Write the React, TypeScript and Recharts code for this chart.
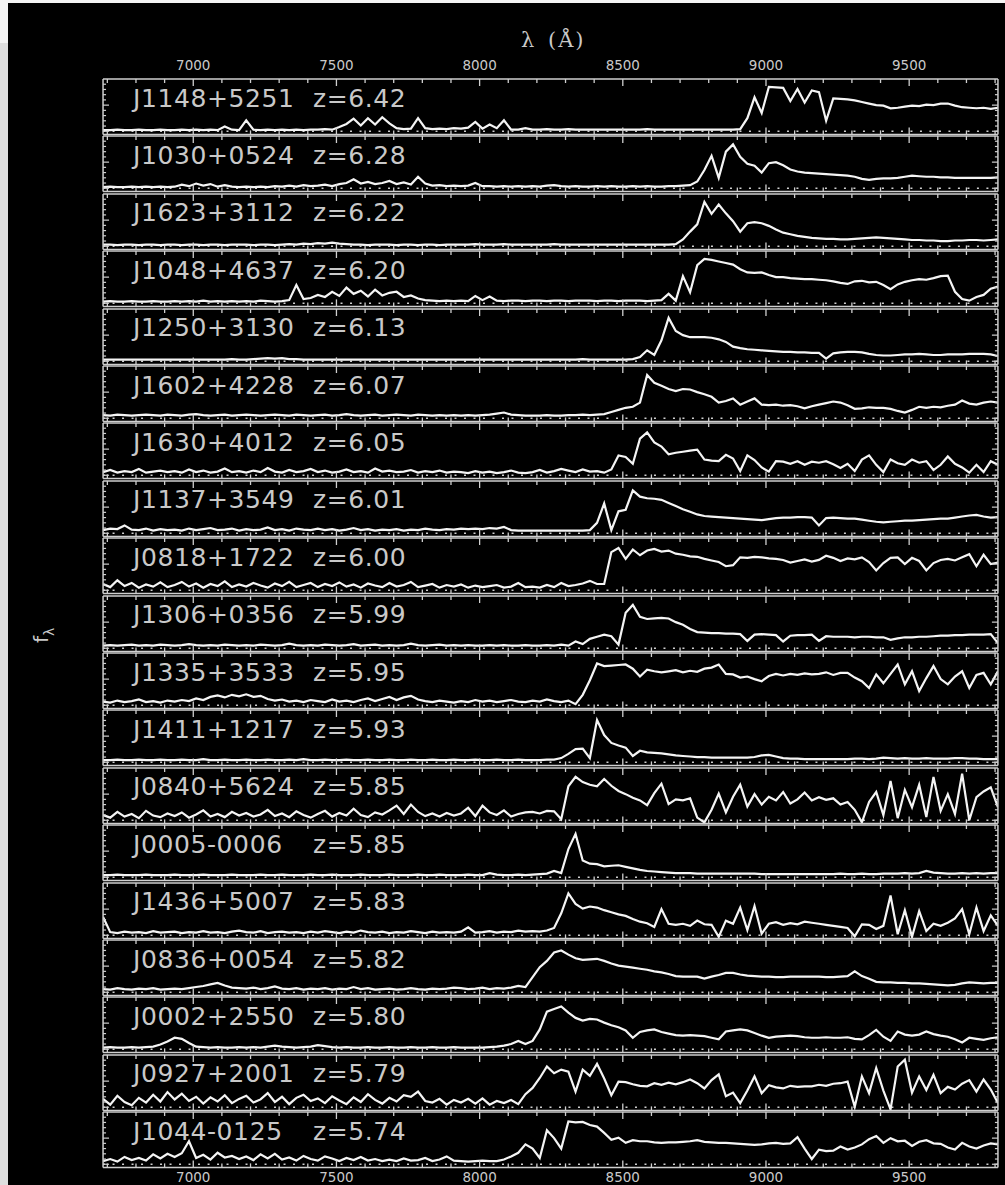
import React from 'react';
import { Line, LineChart, ReferenceLine, XAxis, YAxis } from 'recharts';

// Observed-frame wavelength grid, 25 Å bins (Å)
const WAVE = [
  6685, 6710, 6735, 6760, 6785, 6810, 6835, 6860, 6885, 6910,
  6935, 6960, 6985, 7010, 7035, 7060, 7085, 7110, 7135, 7160,
  7185, 7210, 7235, 7260, 7285, 7310, 7335, 7360, 7385, 7410,
  7435, 7460, 7485, 7510, 7535, 7560, 7585, 7610, 7635, 7660,
  7685, 7710, 7735, 7760, 7785, 7810, 7835, 7860, 7885, 7910,
  7935, 7960, 7985, 8010, 8035, 8060, 8085, 8110, 8135, 8160,
  8185, 8210, 8235, 8260, 8285, 8310, 8335, 8360, 8385, 8410,
  8435, 8460, 8485, 8510, 8535, 8560, 8585, 8610, 8635, 8660,
  8685, 8710, 8735, 8760, 8785, 8810, 8835, 8860, 8885, 8910,
  8935, 8960, 8985, 9010, 9035, 9060, 9085, 9110, 9135, 9160,
  9185, 9210, 9235, 9260, 9285, 9310, 9335, 9360, 9385, 9410,
  9435, 9460, 9485, 9510, 9535, 9560, 9585, 9610, 9635, 9660,
  9685, 9710, 9735, 9760, 9785, 9810,
];

const X_TICKS = [
  6700, 6800, 6900, 7000, 7100, 7200, 7300, 7400, 7500, 7600, 7700,
  7800, 7900, 8000, 8100, 8200, 8300, 8400, 8500, 8600, 8700, 8800,
  8900, 9000, 9100, 9200, 9300, 9400, 9500, 9600, 9700, 9800,
];
const Y_TICKS = [0, 1, 2, 3, 4, 5, 6, 7, 8, 9];

const QSO_NAMES = [
  'J1148+5251', 'J1030+0524', 'J1623+3112', 'J1048+4637', 'J1250+3130',
  'J1602+4228', 'J1630+4012', 'J1137+3549', 'J0818+1722', 'J1306+0356',
  'J1335+3533', 'J1411+1217', 'J0840+5624', 'J0005-0006', 'J1436+5007',
  'J0836+0054', 'J0002+2550', 'J0927+2001', 'J1044-0125',
];
const QSO_Z = [
  '6.42', '6.28', '6.22', '6.20', '6.13', '6.07', '6.05', '6.01', '6.00', '5.99',
  '5.95', '5.93', '5.85', '5.85', '5.83', '5.82', '5.80', '5.79', '5.74',
];

// f_lambda, arbitrary units per panel, one row = 250 Å
const fluxJ1148 = [
  0.2, 0.2, 0.3, 0.2, 0.2, 0.3, 0.2, 0.2, 0.3, 0.2,
  0.2, 0.3, 0.2, 0.3, 0.2, 0.3, 0.2, 0.9, 0.3, 0.2,
  2.1, 0.3, 0.2, 0.3, 0.2, 0.3, 0.2, 0.3, 0.2, 0.3,
  0.3, 0.4, 0.3, 0.8, 1.4, 2.4, 1.1, 2.5, 1.3, 2.7,
  1.5, 0.6, 0.4, 0.5, 2.5, 0.6, 0.4, 0.5, 0.4, 0.6,
  0.5, 0.7, 1.8, 0.5, 1.3, 0.6, 2.1, 0.3, 0.3, 0.6,
  0.3, 0.3, 0.4, 0.3, 0.3, 0.4, 0.3, 0.3, 0.3, 0.3,
  0.3, 0.3, 0.3, 0.3, 0.3, 0.3, 0.4, 0.3, 0.3, 0.3,
  0.3, 0.3, 0.3, 0.3, 0.3, 0.3, 0.3, 0.3, 0.3, 0.4,
  2.5, 6.5, 3.5, 8.5, 8.4, 8.3, 5.8, 8.1, 5.5, 7.8,
  7.5, 2.0, 6.3, 6.2, 6.1, 5.9, 5.6, 5.3, 5.0, 4.9,
  4.4, 4.5, 4.7, 4.9, 4.8, 5.1, 5.0, 5.3, 5.3, 4.9,
  4.6, 4.5, 4.4, 4.5, 4.3, 4.5,
];
const fluxJ1030 = [
  0.2, 0.3, 0.2, 0.2, 0.3, 0.2, 0.3, 0.2, 0.3, 0.2,
  0.3, 0.7, 0.4, 0.9, 0.5, 0.8, 0.3, 0.6, 0.3, 0.2,
  0.3, 0.2, 0.3, 0.2, 0.4, 0.3, 0.5, 0.3, 0.6, 0.4,
  0.5, 0.7, 0.4, 0.8, 1.0, 1.7, 0.9, 1.2, 0.8, 1.0,
  1.4, 0.8, 1.1, 0.7, 2.2, 0.9, 0.5, 0.6, 0.4, 0.5,
  0.4, 0.5, 1.0, 0.4, 0.4, 0.3, 0.4, 0.3, 0.4, 0.3,
  0.4, 0.3, 0.5, 0.6, 0.4, 0.3, 0.4, 0.3, 0.3, 0.4,
  0.3, 0.4, 0.3, 0.3, 0.4, 0.3, 0.4, 0.3, 0.3, 0.4,
  0.4, 0.5, 0.6, 1.3, 3.5, 6.2, 2.0, 7.0, 8.4, 6.0,
  4.7, 4.3, 3.0, 4.8, 5.0, 4.4, 3.6, 3.2, 3.0, 2.9,
  2.8, 2.7, 2.6, 2.5, 2.4, 2.2, 1.8, 1.6, 1.8, 1.9,
  1.9, 2.0, 2.2, 2.4, 2.3, 2.2, 2.2, 2.1, 2.1, 2.0,
  2.0, 2.0, 2.0, 2.0, 2.0, 2.1,
];
const fluxJ1623 = [
  0.3, 0.3, 0.2, 0.3, 0.3, 0.2, 0.3, 0.3, 0.2, 0.3,
  0.3, 0.2, 0.3, 0.3, 0.2, 0.3, 0.3, 0.2, 0.3, 0.3,
  0.3, 0.2, 0.3, 0.3, 0.2, 0.3, 0.4, 0.3, 0.5, 0.4,
  0.6, 0.5, 0.7, 0.5, 0.4, 0.3, 0.3, 0.2, 0.3, 0.3,
  0.3, 0.2, 0.3, 0.3, 0.2, 0.3, 0.3, 0.2, 0.3, 0.3,
  0.3, 0.3, 0.4, 0.3, 0.3, 0.3, 0.4, 0.3, 0.3, 0.3,
  0.3, 0.3, 0.3, 0.4, 0.3, 0.3, 0.3, 0.3, 0.3, 0.3,
  0.3, 0.3, 0.3, 0.3, 0.3, 0.3, 0.3, 0.3, 0.3, 0.3,
  0.4, 1.3, 2.8, 4.2, 8.5, 6.2, 8.0, 6.3, 4.8, 2.8,
  4.4, 4.6, 4.4, 3.9, 3.2, 2.6, 2.3, 2.0, 1.8, 1.6,
  1.5, 1.4, 1.4, 1.3, 1.3, 1.4, 1.5, 1.6, 1.7, 1.6,
  1.5, 1.4, 1.3, 1.2, 1.2, 1.1, 1.1, 1.0, 1.0, 1.1,
  1.1, 1.2, 1.2, 1.1, 1.2, 1.3,
];
const fluxJ1048 = [
  0.3, 0.4, 0.3, 0.3, 0.4, 0.3, 0.3, 0.4, 0.3, 0.3,
  0.4, 0.3, 0.4, 0.3, 0.5, 0.3, 0.4, 0.3, 0.4, 0.3,
  0.4, 0.3, 0.5, 0.4, 0.3, 0.4, 0.6, 3.5, 0.8, 1.0,
  1.6, 1.2, 2.2, 1.4, 3.0, 1.8, 2.4, 1.3, 2.6, 1.5,
  2.0, 2.2, 1.2, 1.5, 0.9, 0.6, 0.5, 0.4, 0.5, 0.4,
  0.5, 0.4, 1.4, 0.6, 1.3, 0.5, 0.4, 0.5, 0.5, 0.4,
  0.5, 0.5, 0.4, 0.5, 0.5, 0.4, 0.5, 0.5, 0.5, 0.4,
  0.5, 0.5, 0.4, 0.5, 0.5, 0.5, 0.4, 0.5, 0.6, 1.8,
  0.5, 5.2, 2.1, 7.3, 8.5, 8.3, 8.0, 7.7, 7.4, 6.5,
  5.9, 5.8, 5.9, 5.4, 5.0, 5.0, 4.8, 4.7, 4.6, 4.6,
  4.5, 4.4, 4.2, 3.9, 3.7, 4.2, 4.3, 4.0, 4.1, 3.5,
  2.7, 3.6, 4.1, 4.4, 4.6, 4.5, 4.8, 5.2, 5.3, 2.2,
  0.8, 0.5, 1.2, 1.6, 2.8, 3.2,
];
const fluxJ1250 = [
  0.3, 0.3, 0.3, 0.3, 0.3, 0.3, 0.3, 0.3, 0.3, 0.3,
  0.3, 0.3, 0.3, 0.3, 0.3, 0.3, 0.3, 0.3, 0.4, 0.3,
  0.3, 0.4, 0.5, 0.6, 0.5, 0.6, 0.4, 0.4, 0.3, 0.3,
  0.3, 0.3, 0.3, 0.3, 0.3, 0.3, 0.3, 0.3, 0.3, 0.3,
  0.3, 0.3, 0.3, 0.3, 0.3, 0.3, 0.3, 0.3, 0.3, 0.3,
  0.3, 0.3, 0.3, 0.3, 0.3, 0.3, 0.3, 0.3, 0.3, 0.3,
  0.3, 0.3, 0.3, 0.3, 0.3, 0.3, 0.3, 0.4, 0.3, 0.3,
  0.3, 0.3, 0.3, 0.3, 0.4, 0.8, 2.1, 1.2, 4.0, 8.3,
  5.8, 5.0, 4.6, 4.6, 4.6, 4.5, 4.2, 3.7, 2.8, 2.5,
  2.3, 2.2, 2.1, 2.0, 1.9, 1.8, 1.8, 1.7, 1.7, 1.6,
  1.6, 0.5, 1.5, 1.7, 1.8, 1.8, 1.7, 1.4, 1.2, 1.1,
  1.1, 1.2, 1.3, 1.3, 1.4, 1.3, 1.2, 1.2, 1.3, 1.3,
  1.3, 1.4, 1.4, 1.4, 1.3, 1.0,
];
const fluxJ1602 = [
  0.6, 0.5, 0.7, 0.6, 0.5, 0.6, 0.7, 0.6, 0.5, 0.7,
  0.6, 0.5, 0.7, 0.8, 0.6, 0.5, 0.6, 0.7, 0.5, 0.6,
  0.7, 0.6, 0.5, 0.6, 0.7, 0.6, 0.5, 0.7, 0.6, 0.5,
  0.6, 0.7, 0.5, 0.6, 0.8, 0.6, 0.5, 0.6, 0.7, 0.5,
  0.6, 0.7, 0.6, 0.5, 0.7, 0.6, 0.5, 0.6, 0.5, 0.6,
  0.5, 0.6, 0.5, 0.6, 0.7, 0.9, 1.1, 0.7, 0.6, 0.5,
  0.5, 0.5, 0.6, 0.5, 0.5, 0.6, 0.6, 0.7, 0.6, 0.7,
  0.8, 1.2, 1.6, 2.0, 2.2, 3.0, 8.3, 6.8, 6.2, 5.6,
  5.2, 5.6, 5.5, 5.0, 4.6, 4.1, 3.0, 3.3, 3.8, 2.6,
  3.2, 3.8, 2.6, 2.5, 2.6, 2.4, 2.5, 2.3, 1.9, 2.3,
  2.6, 2.9, 3.2, 3.0, 2.5, 1.8, 1.9, 2.1, 2.0, 2.0,
  1.8, 1.4, 1.1, 1.6, 2.2, 2.0, 2.2, 2.1, 2.4, 2.6,
  3.4, 2.8, 2.6, 3.0, 3.2, 3.0,
];
const fluxJ1630 = [
  0.6, 1.0, 0.5, 0.8, 0.6, 1.2, 0.5, 0.7, 0.9, 0.6,
  0.8, 0.5, 1.1, 0.6, 0.9, 0.5, 0.7, 1.3, 0.6, 0.8,
  0.5, 0.9, 0.6, 1.4, 0.7, 0.5, 1.0, 0.6, 0.8, 1.2,
  0.6, 0.9, 0.5, 0.7, 1.1, 0.6, 0.8, 0.5, 1.3, 0.7,
  0.9, 0.6, 0.7, 1.0, 0.5, 0.8, 0.6, 0.9, 0.5, 0.7,
  0.6, 0.4, 0.8, 0.5, 0.7, 0.4, 0.6, 0.9, 0.5, 0.4,
  0.6, 1.0, 0.5, 0.8, 1.2, 0.9, 0.6, 1.1, 0.7, 0.8,
  0.5, 1.1, 3.8, 3.5, 2.2, 7.0, 8.2, 6.3, 5.5, 4.0,
  4.3, 4.5, 4.7, 4.9, 3.0, 2.8, 2.7, 3.9, 3.2, 0.8,
  3.8, 2.9, 1.5, 0.7, 2.7, 2.6, 2.2, 2.7, 2.0, 2.6,
  2.4, 2.7, 2.1, 1.4, 2.2, 0.8, 3.0, 3.8, 2.0, 0.6,
  3.0, 2.3, 2.0, 3.0, 2.4, 2.7, 1.0, 2.0, 3.6, 2.2,
  1.5, 0.5, 2.0, 0.6, 2.7, 2.0,
];
const fluxJ1137 = [
  0.6, 0.9, 0.8, 1.5, 0.7, 0.6, 0.9, 0.5, 0.8, 0.6,
  0.7, 0.5, 0.9, 0.6, 0.8, 1.0, 0.6, 0.7, 0.9, 0.5,
  0.8, 0.6, 0.7, 1.1, 0.6, 0.8, 0.5, 0.9, 0.7, 0.6,
  0.9, 0.6, 0.8, 0.5, 0.7, 1.0, 0.6, 0.8, 0.5, 0.7,
  0.6, 0.8, 0.5, 0.7, 0.6, 0.9, 0.7, 0.6, 0.8, 0.7,
  0.9, 0.8, 0.9, 0.8, 1.0, 0.9, 1.2, 0.6, 0.5, 0.5,
  0.5, 0.5, 0.5, 0.5, 0.5, 0.5, 0.5, 0.5, 0.6, 2.0,
  5.7, 0.6, 4.2, 4.5, 8.2, 7.0, 6.7, 6.6, 6.4, 5.8,
  5.2, 4.6, 4.1, 3.6, 3.3, 3.2, 3.1, 3.0, 2.9, 2.8,
  2.7, 2.6, 2.5, 2.7, 2.9, 3.0, 3.0, 3.1, 3.1, 3.0,
  1.5, 2.9, 3.0, 2.9, 2.8, 2.8, 2.6, 2.4, 2.2, 2.1,
  2.2, 2.3, 2.4, 2.4, 2.5, 2.6, 2.7, 2.8, 2.8, 3.0,
  3.2, 3.4, 3.5, 3.2, 3.0, 3.1,
];
const fluxJ0818 = [
  1.2, 0.6, 1.9, 0.8, 1.4, 0.5, 1.1, 0.7, 1.5, 0.6,
  1.0, 1.6, 0.7, 1.3, 0.5, 1.2, 0.8, 1.7, 0.6, 1.1,
  0.7, 1.4, 0.9, 0.5, 1.3, 0.8, 1.6, 0.6, 1.0, 1.4,
  0.6, 1.2, 0.8, 1.5, 0.7, 1.1, 0.5, 1.3, 0.9, 0.6,
  1.4, 0.7, 1.0, 1.6, 0.6, 0.9, 1.2, 0.5, 1.0, 0.7,
  1.1, 0.5, 0.9, 0.6, 0.8, 1.0, 0.5, 0.7, 1.4, 0.6,
  0.7, 0.5, 1.0, 0.6, 1.4, 0.8, 1.0, 1.3, 1.8, 1.2,
  1.2, 7.3, 8.1, 6.0, 7.8, 6.7, 7.6, 7.9, 7.4, 7.6,
  7.0, 6.8, 6.5, 6.4, 6.0, 5.7, 5.4, 4.6, 4.8, 6.3,
  6.2, 6.4, 6.3, 6.1, 6.0, 5.8, 5.3, 5.6, 5.9, 5.5,
  5.8, 6.6, 6.2, 5.6, 6.1, 5.9, 6.3, 5.4, 3.8, 5.2,
  6.2, 6.3, 5.0, 6.2, 5.6, 3.8, 5.2, 5.8, 6.0, 5.7,
  6.3, 6.9, 4.6, 6.8, 5.0, 5.3,
];
const fluxJ1306 = [
  0.5, 0.6, 0.5, 0.6, 0.7, 0.5, 0.6, 0.5, 0.7, 0.6,
  0.5, 0.6, 0.8, 0.6, 0.5, 0.6, 0.5, 0.7, 0.6, 0.5,
  0.6, 0.5, 0.7, 0.6, 0.5, 0.6, 0.9, 0.6, 0.5, 0.6,
  0.5, 0.7, 0.6, 0.5, 0.6, 0.8, 0.5, 0.6, 0.7, 0.5,
  0.6, 0.5, 0.6, 0.9, 0.6, 0.5, 0.6, 0.7, 0.5, 0.6,
  0.5, 0.6, 0.5, 0.5, 0.6, 0.5, 0.6, 0.5, 0.5, 0.6,
  0.5, 0.5, 0.6, 0.5, 0.7, 0.5, 1.3, 0.8, 1.8, 2.2,
  2.6, 2.3, 0.7, 6.8, 8.3, 6.0, 5.6, 5.7, 5.8, 5.7,
  5.0, 4.5, 3.7, 3.1, 3.0, 2.9, 2.9, 2.8, 2.8, 2.7,
  1.4, 2.6, 2.7, 2.6, 2.5, 1.3, 2.4, 2.5, 2.5, 2.6,
  1.4, 2.3, 2.2, 2.2, 2.2, 2.1, 2.2, 2.2, 2.1, 2.1,
  1.6, 1.9, 2.1, 2.1, 2.2, 2.2, 2.3, 2.4, 2.4, 2.5,
  2.5, 2.6, 2.6, 2.6, 2.7, 1.0,
];
const fluxJ1335 = [
  0.7, 0.5, 0.9, 0.6, 0.8, 1.1, 0.6, 0.8, 0.5, 0.9,
  0.7, 1.0, 0.8, 1.3, 1.0, 1.6, 1.9, 1.5, 2.0, 1.7,
  2.1, 1.6, 1.8, 1.2, 0.9, 1.1, 0.7, 0.9, 0.6, 1.0,
  0.8, 0.6, 1.1, 0.7, 0.9, 0.6, 1.0, 1.3, 0.8, 1.2,
  1.6, 1.0, 1.5, 1.8, 1.1, 0.8, 0.6, 0.9, 0.7, 0.5,
  0.8, 0.6, 1.0, 0.7, 0.9, 0.6, 0.8, 1.0, 0.7, 0.6,
  0.9, 0.7, 1.1, 0.8, 0.6, 0.9, 0.2, 2.0, 4.8, 8.0,
  7.5, 7.6, 7.7, 7.8, 7.0, 5.5, 6.8, 6.5, 6.3, 6.5,
  6.7, 6.3, 6.6, 6.4, 7.0, 7.2, 7.8, 6.0, 5.9, 5.3,
  5.5, 5.0, 4.6, 5.6, 6.0, 5.7, 6.0, 5.8, 6.1, 5.9,
  6.0, 6.3, 5.8, 6.2, 6.2, 5.3, 4.6, 3.3, 5.9, 4.2,
  6.0, 7.8, 4.0, 6.5, 2.7, 5.2, 7.5, 5.0, 4.0, 5.5,
  6.5, 3.3, 5.8, 6.2, 4.0, 6.5,
];
const fluxJ1411 = [
  0.4, 0.4, 0.5, 0.4, 0.4, 0.5, 0.4, 0.4, 0.5, 0.4,
  0.4, 0.5, 0.4, 0.4, 0.6, 0.4, 0.4, 0.5, 0.4, 0.4,
  0.5, 0.4, 0.4, 0.5, 0.4, 0.4, 0.5, 0.4, 0.6, 0.4,
  0.4, 0.5, 0.4, 0.4, 0.5, 0.4, 0.4, 0.5, 0.4, 0.4,
  0.5, 0.4, 0.4, 0.5, 0.4, 0.4, 0.5, 0.4, 0.4, 0.5,
  0.4, 0.4, 0.5, 0.4, 0.4, 0.5, 0.4, 0.4, 0.5, 0.4,
  0.4, 0.4, 0.5, 0.5, 0.8, 1.6, 2.5, 2.6, 0.8, 8.1,
  5.2, 3.7, 3.2, 2.8, 1.2, 2.2, 1.9, 1.8, 1.7, 1.5,
  1.3, 1.2, 1.1, 1.0, 1.0, 0.9, 0.9, 0.9, 0.9, 0.9,
  0.9, 1.0, 1.3, 1.4, 1.1, 0.8, 0.7, 0.7, 0.6, 0.6,
  0.6, 0.6, 0.6, 0.6, 0.6, 0.7, 0.7, 0.6, 0.7, 0.9,
  0.8, 0.7, 0.8, 0.7, 0.7, 0.8, 0.7, 0.7, 0.7, 0.8,
  0.8, 0.7, 0.7, 0.6, 0.6, 0.6,
];
const fluxJ0840 = [
  1.0, 0.5, 1.6, 0.7, 1.2, 0.4, 1.8, 0.9, 0.6, 1.3,
  0.8, 1.5, 0.5, 1.1, 1.9, 0.7, 1.2, 0.6, 1.6, 0.9,
  1.4, 0.7, 1.1, 2.0, 0.8, 1.3, 0.6, 1.7, 1.0, 0.5,
  1.2, 1.8, 0.7, 1.4, 0.9, 2.2, 1.0, 0.6, 1.5, 1.1,
  1.9, 2.8, 1.2, 3.0, 1.6, 0.8, 1.3, 0.7, 1.4, 0.9,
  1.3, 2.4, 0.8, 2.8, 1.5, 1.0, 1.9, 0.7, 1.2, 1.5,
  1.6, 1.3, 1.8, 1.7, 0.2, 6.5, 8.3, 7.3, 6.8, 6.5,
  7.9, 6.6, 5.6, 5.0, 4.3, 3.8, 2.9, 5.2, 7.0, 3.1,
  4.0, 3.8, 4.2, 0.5, -0.4, 2.0, 5.1, 1.5, 4.5, 6.8,
  2.6, 5.0, 3.0, 4.5, 3.8, 5.4, 3.2, 4.0, 5.3, 3.8,
  4.4, 3.9, 4.2, 3.0, 3.5, 2.0, -0.4, 3.5, 5.4, 1.0,
  7.5, 0.4, 5.8, 2.5, 6.8, 0.6, 8.3, 1.8, 5.0, 1.2,
  8.9, 0.0, 4.4, 5.5, 6.3, 2.5,
];
const fluxJ0005 = [
  0.4, 0.4, 0.5, 0.4, 0.4, 0.4, 0.5, 0.4, 0.4, 0.4,
  0.5, 0.4, 0.4, 0.4, 0.5, 0.4, 0.4, 0.4, 0.5, 0.4,
  0.4, 0.4, 0.5, 0.4, 0.4, 0.5, 0.4, 0.4, 0.4, 0.5,
  0.4, 0.4, 0.5, 0.4, 0.4, 0.4, 0.5, 0.4, 0.4, 0.4,
  0.5, 0.4, 0.4, 0.4, 0.5, 0.4, 0.4, 0.5, 0.4, 0.4,
  0.4, 0.5, 0.4, 0.4, 0.8, 0.5, 0.4, 0.4, 0.5, 0.4,
  0.5, 0.6, 0.7, 1.2, 0.8, 5.4, 8.3, 3.2, 2.6, 2.5,
  2.1, 2.2, 2.3, 2.0, 1.7, 1.4, 1.2, 1.1, 1.0, 0.9,
  0.8, 0.8, 0.8, 0.7, 0.7, 0.7, 0.7, 0.7, 0.7, 0.7,
  0.7, 0.7, 0.6, 0.6, 0.6, 0.6, 0.6, 0.6, 0.6, 0.6,
  0.6, 0.6, 0.6, 0.7, 0.6, 0.6, 0.7, 0.6, 0.6, 0.7,
  0.7, 0.7, 0.8, 0.7, 0.8, 1.2, 0.9, 0.8, 0.7, 0.7,
  0.8, 0.7, 0.8, 0.7, 0.8, 0.8,
];
const fluxJ1436 = [
  3.5, 0.6, 0.4, 0.7, 0.5, 0.6, 0.4, 0.8, 0.5, 0.6,
  0.7, 0.4, 0.6, 0.5, 0.8, 0.5, 0.6, 0.4, 0.7, 0.9,
  0.6, 0.5, 0.8, 0.4, 0.6, 0.7, 0.5, 0.6, 0.4, 0.7,
  0.5, 0.8, 0.6, 0.4, 0.7, 0.5, 0.9, 0.6, 0.5, 0.7,
  0.4, 0.6, 0.5, 0.8, 0.6, 0.4, 0.7, 0.5, 0.6, 0.5,
  0.7, 1.5, 0.5, 0.6, 0.8, 0.5, 0.7, 0.6, 0.9, 0.7,
  0.8, 0.7, 0.9, 1.4, 4.2, 8.0, 6.0, 5.1, 5.5, 5.3,
  4.8, 4.4, 4.0, 3.7, 3.1, 2.6, 2.3, 1.6, 5.0, 2.2,
  2.0, 2.2, 1.8, 2.8, 2.1, 2.0, -0.3, 2.8, 2.2, 5.3,
  1.0, 5.6, 0.3, 2.2, 2.5, 2.0, 2.3, 2.1, 2.6, 2.4,
  2.2, 2.0, 1.8, 1.6, 1.4, -0.2, 2.1, 2.0, 1.2, 1.8,
  7.6, 0.2, 4.8, -0.3, 4.6, 0.8, 2.2, 1.8, 2.4, 3.2,
  5.0, 0.2, 5.3, 0.8, 3.8, 1.8,
];
const fluxJ0836 = [
  0.6, 0.5, 0.8, 0.6, 0.5, 0.7, 0.6, 0.8, 0.5, 0.6,
  0.7, 0.6, 0.8, 1.0, 1.2, 1.5, 1.8, 1.3, 0.9, 0.8,
  0.7, 0.9, 0.6, 0.8, 1.1, 0.7, 0.6, 0.8, 0.5, 0.7,
  0.6, 0.8, 0.5, 0.7, 0.6, 1.0, 0.6, 0.8, 0.5, 0.6,
  0.7, 0.5, 0.6, 0.8, 0.6, 0.5, 0.7, 0.6, 0.7, 0.9,
  0.8, 0.6, 0.7, 0.9, 0.6, 0.8, 0.7, 0.9, 1.2, 1.0,
  2.9, 4.8, 6.0, 7.6, 8.0, 7.2, 6.5, 6.2, 6.3, 6.4,
  6.0, 5.5, 5.1, 4.9, 4.7, 4.5, 4.3, 4.0, 3.8, 3.5,
  3.1, 3.0, 3.0, 3.0, 2.6, 3.0, 3.3, 3.7, 3.7, 3.4,
  3.2, 3.1, 3.0, 3.0, 2.9, 2.9, 3.0, 3.0, 3.0, 3.0,
  3.0, 2.9, 2.9, 3.0, 3.1, 4.0, 3.1, 2.6, 2.0, 1.9,
  1.9, 1.8, 1.8, 1.7, 1.7, 1.6, 1.5, 1.4, 1.3, 1.4,
  1.7, 1.9, 1.8, 1.7, 1.8, 1.8,
];
const fluxJ0002 = [
  0.3, 0.4, 0.3, 0.3, 0.4, 0.3, 0.4, 0.5, 0.9, 1.5,
  2.2, 2.0, 1.2, 0.5, 0.4, 0.3, 0.4, 0.3, 0.3, 0.4,
  0.3, 0.4, 0.3, 0.5, 0.7, 0.5, 0.4, 0.3, 0.4, 0.5,
  0.8, 0.6, 0.4, 0.3, 0.4, 0.3, 0.3, 0.4, 0.3, 0.3,
  0.4, 0.3, 0.3, 0.4, 0.3, 0.3, 0.4, 0.3, 0.3, 0.4,
  0.3, 0.3, 0.3, 0.3, 0.4, 0.5, 0.7, 1.0, 1.6, 1.0,
  1.6, 3.8, 7.2, 7.7, 8.2, 7.0, 6.0, 5.5, 5.8, 5.7,
  5.1, 4.6, 4.2, 3.6, 2.2, 3.3, 3.6, 3.8, 3.3, 3.0,
  2.7, 2.6, 2.7, 2.6, 2.5, 2.2, 1.9, 3.4, 3.6, 3.8,
  3.6, 3.1, 2.6, 2.2, 2.4, 2.5, 2.6, 2.5, 2.3, 2.2,
  2.2, 2.3, 2.2, 2.2, 2.3, 2.0, 1.9, 2.7, 3.7, 2.4,
  1.6, 3.4, 2.8, 2.6, 2.8, 3.4, 2.9, 2.6, 2.4, 1.9,
  1.3, 2.2, 2.0, 1.8, 2.1, 2.3,
];
const fluxJ0927 = [
  1.6, 0.5, 2.2, 1.0, 0.4, 1.8, 0.9, 2.4, 1.1, 2.9,
  1.5, 2.6, 1.2, 2.0, 0.7, 1.9, 1.1, 2.3, 0.8, 1.6,
  2.2, 0.9, 1.5, 2.7, 1.0, 2.0, 0.6, 1.8, 2.4, 1.2,
  1.7, 0.8, 2.1, 1.3, 0.6, 1.9, 1.0, 2.5, 1.4, 0.7,
  1.8, 1.1, 2.3, 2.0, 3.0, 1.2, 0.9, 1.6, 0.5, 1.4,
  0.9, 1.6, 0.7, 1.7, 0.5, 1.2, 0.8, 1.4, 0.6, 2.5,
  3.7, 5.6, 7.8, 6.5, 7.2, 6.8, 3.0, 7.2, 6.0, 8.3,
  5.5, 2.3, 4.9, 4.8, 4.4, 4.1, 4.0, 4.6, 4.3, 4.7,
  4.4, 4.8, 5.3, 4.6, 3.6, 5.2, 6.3, 2.1, 2.8, 0.8,
  3.2, 5.9, 2.7, 4.2, 3.8, 3.6, 4.1, 3.9, 4.0, 4.0,
  4.3, 4.1, 4.5, 4.6, 4.9, 0.1, 5.9, 2.7, 7.5, 3.2,
  -0.4, 7.8, 9.1, 2.8, 5.9, 3.3, 6.2, 2.7, 3.9, 3.4,
  4.5, 5.2, 3.0, 5.3, 3.4, 0.8,
];
const fluxJ1044 = [
  0.6, 1.0, 0.5, 1.4, 0.8, 1.2, 0.7, 1.9, 1.1, 2.0,
  1.4, 2.1, 4.4, 1.2, 1.8, 0.9, 2.2, 1.3, 1.6, 1.0,
  1.5, 0.8, 1.9, 1.1, 2.0, 0.9, 1.3, 0.7, 1.6, 1.0,
  0.7, 1.5, 1.1, 0.6, 1.2, 0.8, 1.4, 0.7, 1.0, 0.6,
  0.9, 0.6, 1.1, 0.7, 0.8, 1.2, 0.6, 0.9, 1.5, 0.7,
  0.6, 0.5, 0.6, 0.7, 0.6, 0.6, 0.9, 1.5, 2.2, 3.8,
  3.0, 1.2, 6.5, 5.0, 3.0, 8.2, 8.0, 8.1, 7.5, 7.2,
  6.0, 4.7, 5.1, 4.1, 4.6, 4.4, 4.4, 4.2, 4.1, 4.2,
  4.2, 4.3, 4.4, 4.6, 4.3, 4.2, 4.1, 4.1, 4.0, 3.9,
  3.8, 3.7, 3.8, 4.0, 4.1, 3.9, 4.0, 5.2, 3.0, 1.0,
  2.8, 2.5, 2.6, 3.4, 2.8, 3.2, 3.8, 4.8, 5.4, 4.1,
  5.0, 4.4, 4.5, 3.5, 4.3, 4.6, 4.0, 3.9, 3.2, 2.8,
  4.1, 3.4, 3.0, 3.6, 4.0, 3.8,
];

const SPECTRA = [
  fluxJ1148, fluxJ1030, fluxJ1623, fluxJ1048, fluxJ1250, fluxJ1602, fluxJ1630,
  fluxJ1137, fluxJ0818, fluxJ1306, fluxJ1335, fluxJ1411, fluxJ0840, fluxJ0005,
  fluxJ1436, fluxJ0836, fluxJ0002, fluxJ0927, fluxJ1044,
];

const PAGE_W = 1005;
const PAGE_H = 1185;
const PLOT_TOP = 79;
const PITCH = 57.4;
const PLOT_H = 55.4;
const MARGIN_LEFT = 102;
const MARGIN_RIGHT = 6;
const FRAME = '#cfcfcf';
const INK = '#f4f4f4';
const LABEL = '#c9c9c9';

const makeXTick = (side: 'top' | 'bottom', labelled: boolean) => (props: any) => {
  const { x, y, payload } = props;
  const major = payload.value % 500 === 0;
  const dir = side === 'top' ? 1 : -1;
  return (
    <g>
      <line x1={x} x2={x} y1={y} y2={y + dir * (major ? 7 : 4)} stroke={FRAME} strokeWidth={1.3} />
      {labelled && major && (
        <text
          x={x}
          y={side === 'top' ? y - 9 : y + 15}
          textAnchor="middle"
          fontFamily="DejaVu Sans"
          fontSize={13.5}
          fill={LABEL}
        >
          {payload.value}
        </text>
      )}
    </g>
  );
};

const makeYTick = (side: 'left' | 'right') => (props: any) => {
  const { x, y, payload } = props;
  const dir = side === 'left' ? 1 : -1;
  const len = payload.value % 5 === 0 ? 6 : 3;
  return <line x1={x} x2={x + dir * len} y1={y} y2={y} stroke={FRAME} strokeWidth={1.2} />;
};

function SpectrumPanel({ index }: { index: number }) {
  const first = index === 0;
  const last = index === SPECTRA.length - 1;
  const extraTop = first ? 40 : 0;
  const extraBottom = last ? 20 : 0;
  const height = PLOT_H + 2 + extraTop + extraBottom;
  const flux = SPECTRA[index];
  const rows = WAVE.map((w, k) => ({ w, f: flux[k] }));
  const frameLine = { stroke: FRAME, strokeWidth: 1.5 };

  return (
    <div
      style={{
        position: 'absolute',
        left: 0,
        top: PLOT_TOP + index * PITCH - 1 - extraTop,
      }}
    >
      <LineChart
        width={PAGE_W}
        height={height}
        data={rows}
        margin={{ top: extraTop, bottom: extraBottom, left: MARGIN_LEFT, right: MARGIN_RIGHT }}
      >
        <XAxis
          xAxisId="top"
          orientation="top"
          type="number"
          dataKey="w"
          domain={[6685, 9810]}
          ticks={X_TICKS}
          interval={0}
          height={1}
          tickSize={0}
          tickMargin={0}
          tickLine={false}
          axisLine={frameLine}
          tick={makeXTick('top', first)}
          allowDataOverflow
        />
        <XAxis
          xAxisId="bottom"
          orientation="bottom"
          type="number"
          dataKey="w"
          domain={[6685, 9810]}
          ticks={X_TICKS}
          interval={0}
          height={1}
          tickSize={0}
          tickMargin={0}
          tickLine={false}
          axisLine={frameLine}
          tick={makeXTick('bottom', last)}
          allowDataOverflow
        />
        <YAxis
          yAxisId="left"
          type="number"
          domain={[-0.6, 10]}
          ticks={Y_TICKS}
          interval={0}
          width={1}
          tickSize={0}
          tickMargin={0}
          tickLine={false}
          axisLine={frameLine}
          tick={makeYTick('left')}
          allowDataOverflow
        />
        <YAxis
          yAxisId="right"
          orientation="right"
          type="number"
          domain={[-0.6, 10]}
          ticks={Y_TICKS}
          interval={0}
          width={1}
          tickSize={0}
          tickMargin={0}
          tickLine={false}
          axisLine={frameLine}
          tick={makeYTick('right')}
          allowDataOverflow
        />
        <ReferenceLine
          xAxisId="bottom"
          yAxisId="left"
          y={0}
          stroke={FRAME}
          strokeWidth={1.5}
          strokeDasharray="2 7.5"
        />
        <Line
          xAxisId="bottom"
          yAxisId="left"
          type="linear"
          dataKey="f"
          stroke={INK}
          strokeWidth={2.2}
          dot={false}
          isAnimationActive={false}
        />
      </LineChart>
    </div>
  );
}

export default function App() {
  return (
    <div
      style={{
        position: 'absolute',
        left: 0,
        top: 0,
        width: PAGE_W,
        height: PAGE_H,
        overflow: 'hidden',
        background: '#f4f4f4',
      }}
    >
      <div style={{ position: 'absolute', left: 0, top: 43, width: 8, bottom: 0, background: '#dedede' }} />
      <div style={{ position: 'absolute', left: 8, top: 3, right: 0, bottom: 0, background: '#000' }} />

      {SPECTRA.map((_, i) => (
        <SpectrumPanel key={QSO_NAMES[i]} index={i} />
      ))}

      <svg
        width={PAGE_W}
        height={PAGE_H}
        style={{ position: 'absolute', left: 0, top: 0, pointerEvents: 'none' }}
      >
        <text fontFamily="DejaVu Serif" fontSize={21} fill={LABEL}>
          <tspan x={521} y={47}>λ</tspan>
          <tspan x={548} y={47} letterSpacing={2}>(Å)</tspan>
        </text>
        <text
          transform="translate(48, 643) rotate(-90)"
          fontFamily="DejaVu Sans"
          fontSize={20}
          fill={LABEL}
        >
          f<tspan dy={6} fontSize={14}>λ</tspan>
        </text>
        {QSO_NAMES.map((name, i) => {
          const baseline = PLOT_TOP + i * PITCH + 27.5;
          return (
            <g key={name} fontFamily="DejaVu Sans" fontSize={25} fill={LABEL}>
              <text x={133} y={baseline} letterSpacing={0.6}>{name}</text>
              <text x={313} y={baseline} letterSpacing={0.6}>{`z=${QSO_Z[i]}`}</text>
            </g>
          );
        })}
      </svg>
    </div>
  );
}
